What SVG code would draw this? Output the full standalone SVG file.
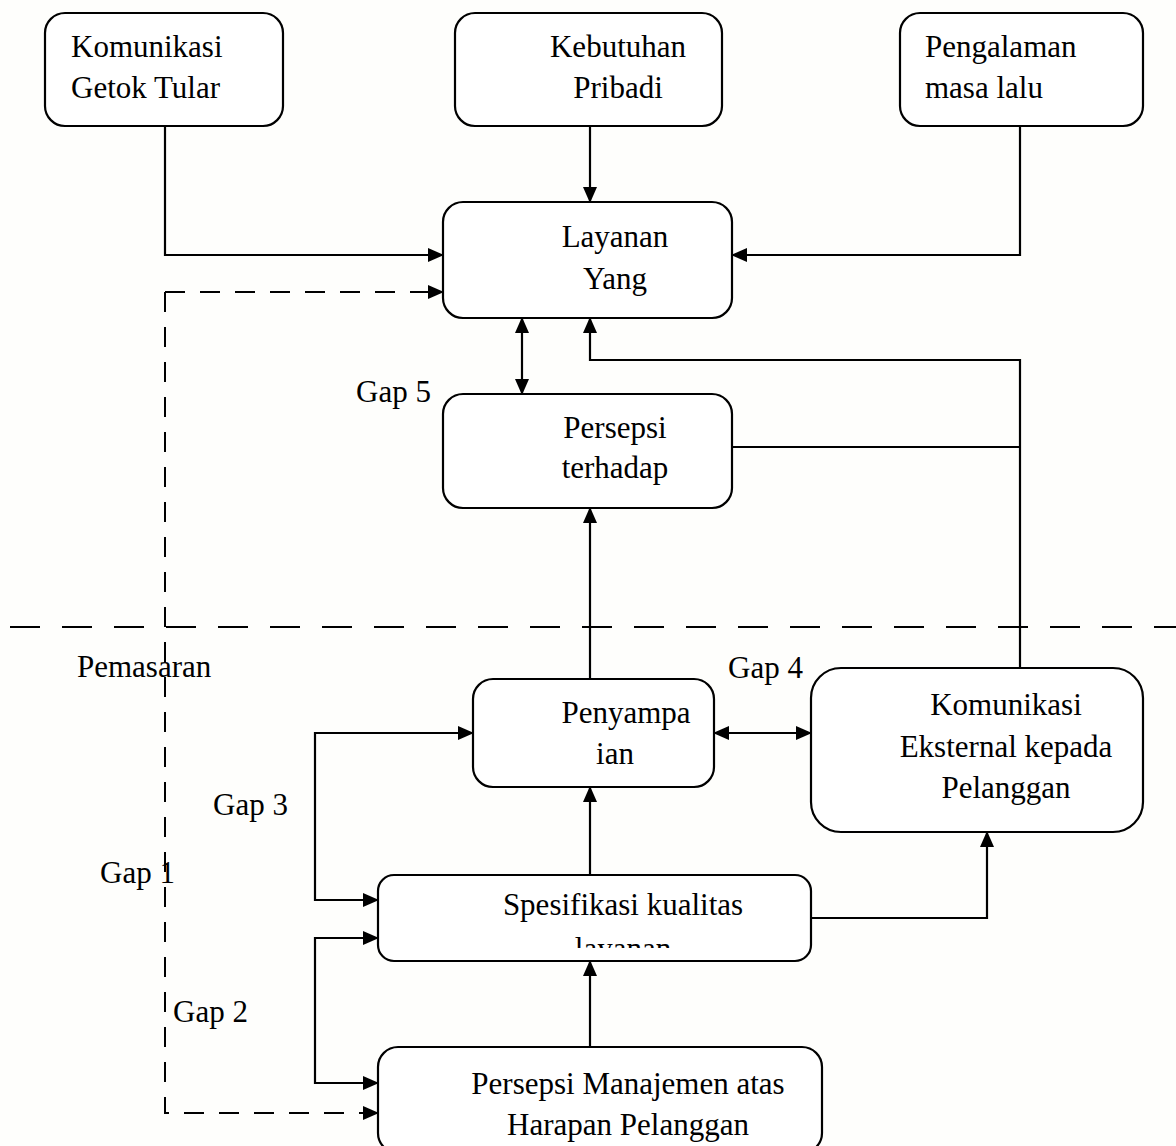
<svg xmlns="http://www.w3.org/2000/svg" width="1176" height="1146" viewBox="0 0 1176 1146">
<style>
  .box { fill: #ffffff; stroke: #000; stroke-width: 2.2; }
  .t { font-family: "Liberation Serif", "Times New Roman", serif; font-size: 31px; fill: #000; }
  .c { text-anchor: middle; }
  .ln { fill: none; stroke: #000; stroke-width: 2.2; }
  .dash { fill: none; stroke: #000; stroke-width: 2; stroke-dasharray: 20 15; }
  .div { fill: none; stroke: #000; stroke-width: 2; stroke-dasharray: 30 22; }
</style>
<defs>
  <marker id="ah" viewBox="0 0 16 14" refX="15" refY="7" markerWidth="16" markerHeight="14" markerUnits="userSpaceOnUse" orient="auto-start-reverse">
    <path d="M0,0 L16,7 L0,14 z" fill="#000" stroke="none"/>
  </marker>
  <clipPath id="clip8"><rect x="378" y="875" width="433" height="73"/></clipPath>
</defs>
<rect x="0" y="0" width="1176" height="1146" fill="#fefefc"/>

<g id="connectors">
  <path class="ln" d="M165,127 V255 H443" marker-end="url(#ah)"/>
  <path class="ln" d="M590,127 V202" marker-end="url(#ah)"/>
  <path class="ln" d="M1020,127 V255 H732" marker-end="url(#ah)"/>
  <path class="dash" d="M165,292 H443" marker-end="url(#ah)"/>
  <path class="dash" d="M165,292 V1113 H378" marker-end="url(#ah)"/>
  <path class="div" d="M10,627 H1176"/>
  <path class="ln" d="M522,318 V394" marker-start="url(#ah)" marker-end="url(#ah)"/>
  <path class="ln" d="M1020,668 V360 H590 V318" marker-end="url(#ah)"/>
  <path class="ln" d="M732,447 H1020"/>
  <path class="ln" d="M590,679 V508" marker-end="url(#ah)"/>
  <path class="ln" d="M714,733 H811" marker-start="url(#ah)" marker-end="url(#ah)"/>
  <path class="ln" d="M590,875 V787" marker-end="url(#ah)"/>
  <path class="ln" d="M590,1047 V961" marker-end="url(#ah)"/>
  <path class="ln" d="M811,918 H987 V832" marker-end="url(#ah)"/>
  <path class="ln" d="M473,733 H315 V900 H378" marker-start="url(#ah)" marker-end="url(#ah)"/>
  <path class="ln" d="M378,938 H315 V1083 H378" marker-start="url(#ah)" marker-end="url(#ah)"/>
</g>

<g id="node-komunikasi-getok-tular">
  <rect class="box" x="45" y="13" width="238" height="113" rx="20"/>
  <text class="t" x="71" y="57">Komunikasi</text>
  <text class="t" x="71" y="98">Getok Tular</text>
</g>
<g id="node-kebutuhan-pribadi">
  <rect class="box" x="455" y="13" width="267" height="113" rx="20"/>
  <text class="t c" x="618" y="57">Kebutuhan</text>
  <text class="t c" x="618" y="98">Pribadi</text>
</g>
<g id="node-pengalaman">
  <rect class="box" x="900" y="13" width="243" height="113" rx="20"/>
  <text class="t" x="925" y="57">Pengalaman</text>
  <text class="t" x="925" y="98">masa lalu</text>
</g>
<g id="node-layanan-yang">
  <rect class="box" x="443" y="202" width="289" height="116" rx="20"/>
  <text class="t c" x="615" y="247">Layanan</text>
  <text class="t c" x="615" y="289">Yang</text>
</g>
<g id="node-persepsi-terhadap">
  <rect class="box" x="443" y="394" width="289" height="114" rx="20"/>
  <text class="t c" x="615" y="438">Persepsi</text>
  <text class="t c" x="615" y="478">terhadap</text>
</g>
<g id="node-penyampaian">
  <rect class="box" x="473" y="679" width="241" height="108" rx="20"/>
  <text class="t c" x="626" y="723">Penyampa</text>
  <text class="t c" x="615" y="764">ian</text>
</g>
<g id="node-komunikasi-eksternal">
  <rect class="box" x="811" y="668" width="332" height="164" rx="30"/>
  <text class="t c" x="1006" y="715">Komunikasi</text>
  <text class="t c" x="1006" y="757">Eksternal kepada</text>
  <text class="t c" x="1006" y="798">Pelanggan</text>
</g>
<g id="node-spesifikasi">
  <rect class="box" x="378" y="875" width="433" height="86" rx="16"/>
  <text class="t c" x="623" y="915">Spesifikasi kualitas</text>
  <text class="t c" x="623" y="959" clip-path="url(#clip8)">layanan</text>
</g>
<g id="node-persepsi-manajemen">
  <rect class="box" x="378" y="1047" width="444" height="106" rx="20"/>
  <text class="t c" x="628" y="1094">Persepsi Manajemen atas</text>
  <text class="t c" x="628" y="1135">Harapan Pelanggan</text>
</g>

<g id="labels">
  <text class="t" x="356" y="402">Gap 5</text>
  <text class="t" x="77" y="677">Pemasaran</text>
  <text class="t" x="728" y="678">Gap 4</text>
  <text class="t" x="213" y="815">Gap 3</text>
  <text class="t" x="100" y="883">Gap 1</text>
  <text class="t" x="173" y="1022">Gap 2</text>
</g>
</svg>
